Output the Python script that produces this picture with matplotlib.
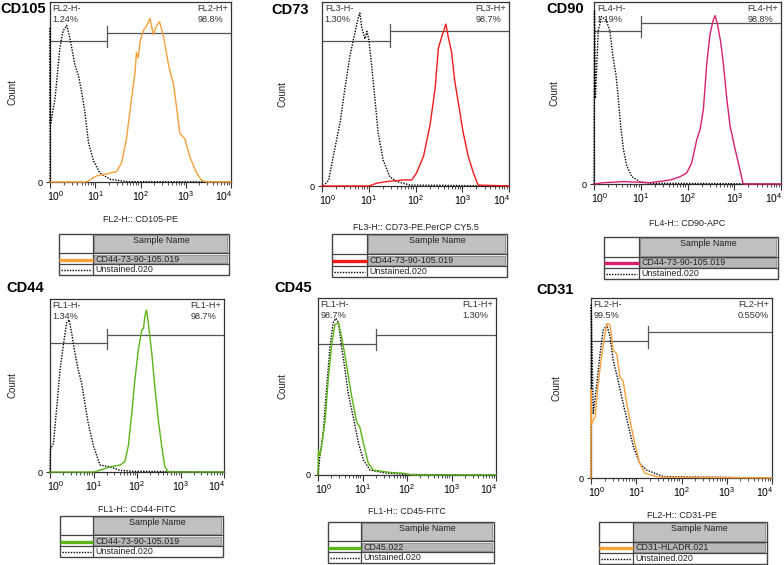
import numpy as np
import matplotlib
matplotlib.use("Agg")
import matplotlib.pyplot as plt
from matplotlib.patches import Rectangle
from matplotlib.transforms import ScaledTranslation

plt.rcParams['font.family'] = 'Liberation Sans'
plt.rcParams['mathtext.fontset'] = 'custom'
plt.rcParams['mathtext.rm'] = 'Liberation Sans'

W, H = 784, 565

# histogram traces: x in decades (log10), y in % of axis height
cd105_pos_x = [0.0, 0.8, 1.03, 1.25, 1.47, 1.58, 1.69, 1.80, 1.88, 1.91, 1.95, 1.99, 2.06, 2.14, 2.21, 2.28,
               2.36, 2.42, 2.50, 2.62, 2.73, 2.80, 2.87, 2.98, 3.09, 3.24, 3.35, 3.46, 4.0]
cd105_pos_y = [0, 0, 3.4, 4.5, 5.8, 10.5, 24, 46, 61, 72, 69, 78, 84, 87, 91, 82,
               87, 89, 82, 65, 54, 41, 27, 24, 14, 5, 1, 0, 0]
cd105_neg_x = [0.0, 0.005, 0.01, 0.11, 0.22, 0.29, 0.37, 0.44, 0.55, 0.63, 0.70, 0.77, 0.85, 0.96, 1.10,
               1.33, 1.7, 4.0]
cd105_neg_y = [0, 86, 32, 46, 75, 84, 87, 80, 65, 59, 50, 39, 22, 12, 5, 1.5, 0.2, 0]

cd73_pos_x = [0.0, 1.0, 1.17, 1.38, 1.74, 1.92, 2.02, 2.17, 2.31, 2.42, 2.49, 2.56, 2.60, 2.65, 2.70,
              2.77, 2.84, 2.95, 3.02, 3.13, 3.24, 3.34, 4.0]
cd73_pos_y = [0, 0, 1.5, 2.4, 3.3, 3.3, 7, 16, 33, 53, 75, 81, 84, 88, 81,
              73, 57, 40, 29, 16, 7, 0.5, 0]
cd73_neg_x = [0.03, 0.14, 0.24, 0.39, 0.49, 0.60, 0.71, 0.78, 0.81, 0.85, 0.92, 0.96, 1.00, 1.06, 1.13,
              1.20, 1.31, 1.45, 1.60, 1.88, 4.0]
cd73_neg_y = [0, 3, 16, 35, 53, 71, 84, 92, 94, 86, 80, 84, 80, 66, 48,
              29, 14, 5, 2.4, 0.5, 0]

cd90_pos_x = [0.0, 0.2, 0.63, 1.2, 1.63, 1.84, 1.98, 2.09, 2.20, 2.27, 2.34, 2.41, 2.48, 2.55, 2.59,
              2.64, 2.71, 2.77, 2.84, 2.91, 3.02, 3.12, 3.19, 4.0]
cd90_pos_y = [0, 0.7, 1.3, 0.7, 2.2, 4, 6, 11.5, 24.6, 30, 41, 65.5, 82, 90, 92.5,
              88, 78, 65.5, 47, 32, 19, 8, 0, 0]
cd90_neg_x = [0.0, 0.01, 0.03, 0.09, 0.16, 0.26, 0.34, 0.41, 0.47, 0.52, 0.57, 0.63, 0.70, 0.81, 0.98,
              1.2, 4.0]
cd90_neg_y = [0, 95, 47, 84, 92, 90, 84, 69, 60, 47, 32, 19, 10, 4, 1.3, 0.4, 0]

cd44_pos_x = [0.0, 1.0, 1.15, 1.38, 1.61, 1.72, 1.80, 1.88, 1.95, 2.03, 2.11, 2.15, 2.18, 2.22, 2.26,
              2.34, 2.41, 2.49, 2.57, 2.64, 2.72, 4.0]
cd44_pos_y = [0, 0, 1, 3, 4, 6, 15, 34, 53, 70.5, 82, 83, 90, 93.6, 86,
              68.6, 49, 30, 14.6, 3, 0, 0]
cd44_neg_x = [0.0, 0.01, 0.08, 0.15, 0.23, 0.31, 0.38, 0.44, 0.50, 0.57, 0.65, 0.73, 0.80, 0.88, 1.00,
              1.15, 1.38, 1.60, 1.90, 4.0]
cd44_neg_y = [0, 13, 16.6, 36, 59, 74, 86, 88, 80, 69, 59, 51, 40, 28, 15,
              4, 3, 1, 0.4, 0]

cd45_pos_x = [0.0, 0.01, 0.04, 0.08, 0.16, 0.23, 0.31, 0.38, 0.46, 0.53, 0.61, 0.68, 0.76, 0.87, 0.94,
              1.02, 1.13, 1.24, 1.6, 1.92, 2.1, 4.0]
cd45_pos_y = [0, 14, 11, 16, 31, 54, 74, 85, 86, 78, 67, 56, 44, 30, 27,
              18, 6.6, 2.8, 1.5, 1, 0, 0]
cd45_neg_x = [0.0, 0.04, 0.12, 0.19, 0.27, 0.34, 0.40, 0.46, 0.53, 0.61, 0.68, 0.79, 0.91, 1.02, 1.17,
              1.5, 2.0, 4.0]
cd45_neg_y = [0, 10, 25, 48, 72.5, 86, 88.5, 86, 72.5, 59, 46, 33, 18, 8.5, 2.8,
              1.2, 0.3, 0]

cd31_pos_x = [0.0, 0.005, 0.01, 0.09, 0.16, 0.24, 0.31, 0.36, 0.42, 0.49, 0.57, 0.64, 0.71, 0.79, 0.86,
              0.97, 1.08, 1.19, 1.5, 4.0]
cd31_pos_y = [0, 49, 30, 34, 52.6, 69, 80, 86, 85, 71, 69, 56, 54, 41.5, 32,
              19, 8, 2.6, 0.5, 0]
cd31_neg_x = [0.0, 0.005, 0.05, 0.13, 0.20, 0.27, 0.35, 0.42, 0.49, 0.60, 0.71, 0.83, 0.94, 1.08, 1.23,
              1.6, 4.0]
cd31_neg_y = [0, 96, 36, 52.6, 69, 82, 85, 78.5, 65.5, 54, 41.5, 28.5, 17, 8, 4.4,
              0.8, 0]

titles = ['CD105', 'CD73', 'CD90', 'CD44', 'CD45', 'CD31']
xlabels = ['FL2-H:: CD105-PE', 'FL3-H:: CD73-PE.PerCP CY5.5', 'FL4-H:: CD90-APC',
           'FL1-H:: CD44-FITC', 'FL1-H:: CD45-FITC', 'FL2-H:: CD31-PE']
channels = ['FL2-H', 'FL3-H', 'FL4-H', 'FL1-H', 'FL1-H', 'FL2-H']
neg_pct = ['1.24%', '1.30%', '1.19%', '1.34%', '98.7%', '99.5%']
pos_pct = ['98.8%', '98.7%', '98.8%', '98.7%', '1.30%', '0.550%']
gate_dec = [1.26, 1.45, 1.0, 1.31, 1.30, 1.26]
sample_names = ['CD44-73-90-105.019', 'CD44-73-90-105.019', 'CD44-73-90-105.019',
                'CD44-73-90-105.019', 'CD45.022', 'CD31-HLADR.021']
control_name = 'Unstained.020'
colors = ['#f7a03c', '#f41a1a', '#d8206e', '#5cb416', '#5cb416', '#f7a03c']

pos_x = [cd105_pos_x, cd73_pos_x, cd90_pos_x, cd44_pos_x, cd45_pos_x, cd31_pos_x]
pos_y = [cd105_pos_y, cd73_pos_y, cd90_pos_y, cd44_pos_y, cd45_pos_y, cd31_pos_y]
neg_x = [cd105_neg_x, cd73_neg_x, cd90_neg_x, cd44_neg_x, cd45_neg_x, cd31_neg_x]
neg_y = [cd105_neg_y, cd73_neg_y, cd90_neg_y, cd44_neg_y, cd45_neg_y, cd31_neg_y]

# layout in pixels (left, right, top, bottom)
ax_box = [(50, 231, 2, 182), (322, 509, 2, 186), (594, 781, 2, 184),
          (50, 224, 299, 472), (318, 496, 298, 475), (591, 772, 298, 478)]
gate_lvl = [(78.5, 83), (79, 84.5), (84, 88.6), (74.6, 79), (74, 79), (76, 81)]
title_pos = [(0, 9), (271, 10), (546, 9), (6, 288), (274, 288), (536, 290)]
count_x = [12, 282, 554, 12, 282, 557]
xlabel_y = [220, 227, 223, 509, 512, 515]
leg_box = [(59, 229, 234, 275), (332, 507, 234, 277), (604, 778, 237, 279),
           (60, 223, 516, 557), (328, 494, 522, 563), (599, 767, 522, 564)]

fig = plt.figure(figsize=(W / 100, H / 100), dpi=100)


def rect(l, r, t, b):
    return [l / W, 1 - b / H, (r - l) / W, (b - t) / H]


for i in range(6):
    l, r, t, b = ax_box[i]
    ax = fig.add_axes(rect(l, r, t, b))
    ax.plot(10 ** np.array(neg_x[i]), neg_y[i], color='black', lw=1.0,
            ls=(0, (1, 1)), clip_on=False, zorder=3)
    ax.plot(10 ** np.array(pos_x[i]), pos_y[i], color=colors[i], lw=1.0,
            clip_on=False, zorder=4)

    # gates
    g = 10 ** gate_dec[i]
    yl, yr = gate_lvl[i]
    gc = '#555555'
    ax.plot([1, g], [yl, yl], color=gc, lw=0.9, zorder=2)
    ax.plot([g, 1e4], [yr, yr], color=gc, lw=0.9, zorder=2)
    ax.plot([g, g], [yl - 3.5, yr + 3.5], color=gc, lw=0.9, zorder=2)

    ax.text(0.015, 0.99, channels[i] + '-\n' + neg_pct[i], transform=ax.transAxes,
            ha='left', va='top', fontsize=6.6, color='#333333', linespacing=1.3)
    ax.text(0.985, 0.99, channels[i] + '+\n' + pos_pct[i], transform=ax.transAxes,
            ha='right', va='top', fontsize=6.6, color='#333333', linespacing=1.3,
            multialignment='left')

    ax.set_xscale('log')
    ax.set_xlim(1, 1e4)
    ax.set_ylim(0, 100)
    ax.set_xticks([1, 10, 100, 1000, 10000])
    ax.set_xticklabels([r'$\mathregular{10^{%d}}$' % k for k in range(5)])
    minors = [m * 10 ** k for k in range(4) for m in range(2, 10)]
    ax.set_xticks(minors, minor=True)
    ax.set_yticks([0])
    ax.set_yticklabels(['0'])
    ax.tick_params(axis='x', which='major', length=4, width=0.8, labelsize=7.5, pad=1.5, color='#333333')
    ax.tick_params(axis='x', which='minor', length=2.2, width=0.6, color='#333333')
    ax.tick_params(axis='y', length=3, width=0.8, labelsize=6.5, pad=2, color='#333333')
    labs = ax.get_xticklabels()
    labs[0].set_transform(labs[0].get_transform() + ScaledTranslation(6 / 100, 0, fig.dpi_scale_trans))
    labs[-1].set_transform(labs[-1].get_transform() + ScaledTranslation(-7 / 100, 0, fig.dpi_scale_trans))
    for s in ax.spines.values():
        s.set_color('#333333')
        s.set_linewidth(0.9)

    tx, ty = title_pos[i]
    fig.text(tx / W, 1 - ty / H, titles[i], fontsize=10.5, fontweight='bold',
             ha='left', va='center')
    fig.text(count_x[i] / W, 1 - (t + b) / 2 / H, 'Count', rotation=90,
             fontsize=7, ha='center', va='center', color='#222222')
    fig.text((l + r) / 2 / W, 1 - xlabel_y[i] / H, xlabels[i], fontsize=6.4,
             ha='center', va='center', color='#222222')

    # sample table
    ll, lr, lt, lb = leg_box[i]
    lg = fig.add_axes(rect(ll, lr, lt, lb))
    lg.set_xlim(0, 1)
    lg.set_ylim(0, 1)
    lg.axis('off')
    ec = '#444444'
    lg.add_patch(Rectangle((0.205, 0.555), 0.785, 0.42, fc='#c0c0c0', ec='#8a8a8a', lw=0.6))
    lg.add_patch(Rectangle((0.205, 0.29), 0.785, 0.2, fc='#b8b8b8', ec='#8a8a8a', lw=0.6))
    lg.add_patch(Rectangle((0, 0), 1, 1, fill=False, ec=ec, lw=1.0, clip_on=False))
    lg.plot([0.2, 0.2], [0, 1], color=ec, lw=0.9)
    lg.plot([0, 1], [0.53, 0.53], color=ec, lw=0.9)
    lg.plot([0, 1], [0.265, 0.265], color=ec, lw=0.9)
    lg.plot([0, 0.2], [0.37, 0.37], color=colors[i], lw=2.4, solid_capstyle='butt')
    lg.plot([0.01, 0.19], [0.12, 0.12], color='black', lw=1.0, ls=(0, (1, 1)))
    lg.text(0.6, 0.84, 'Sample Name', fontsize=6.4, ha='center', va='center', color='#222222')
    lg.text(0.215, 0.385, sample_names[i], fontsize=6.4, ha='left', va='center', color='#222222')
    lg.text(0.215, 0.125, control_name, fontsize=6.4, ha='left', va='center', color='#222222')

fig.savefig('out.png', dpi=100)
